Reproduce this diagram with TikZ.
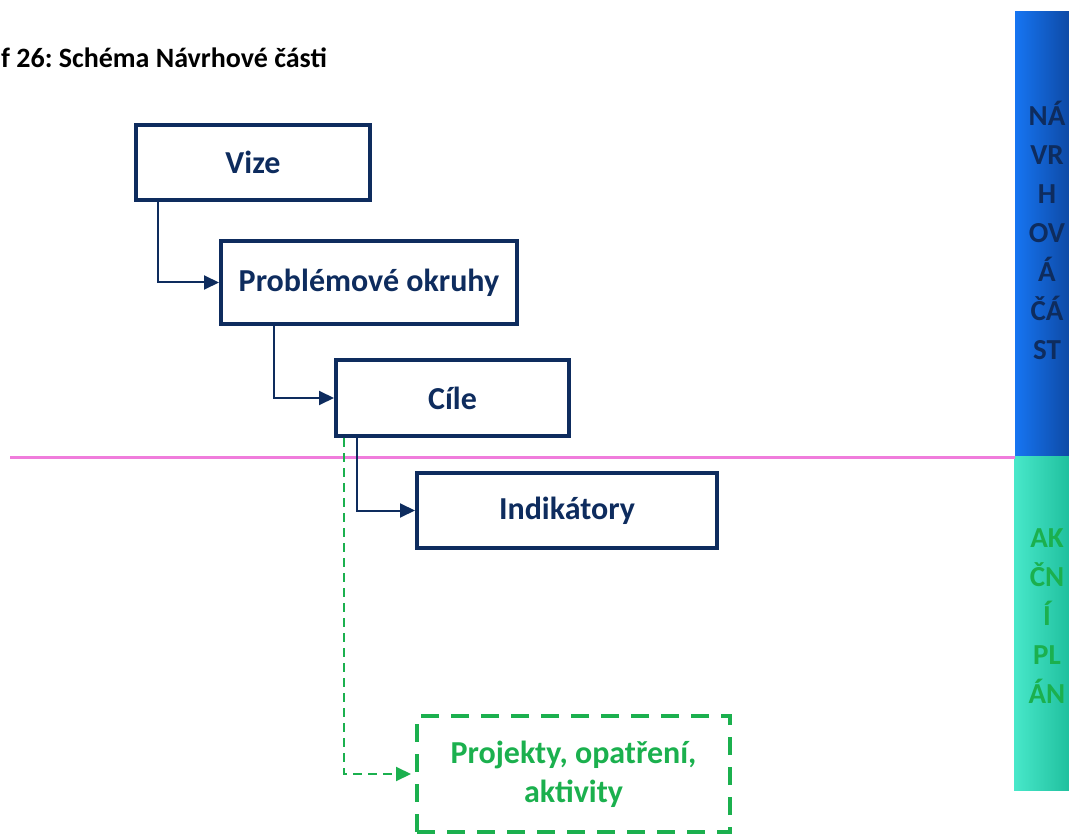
\documentclass[tikz,border=0pt]{standalone}
\usepackage{fontspec}
\setmainfont{Carlito}
\usepackage{tikz}
\usetikzlibrary{arrows.meta,calc}

\definecolor{navy}{HTML}{0E2C5E}
\definecolor{grn}{HTML}{1BB04E}
\definecolor{pinkline}{HTML}{F07CDC}
\definecolor{barblueL}{HTML}{1675F2}
\definecolor{barblueR}{HTML}{0E4AA6}
\definecolor{bartealL}{HTML}{48E8CA}
\definecolor{bartealR}{HTML}{20C09E}

\frenchspacing
\tikzset{
  levelbox/.style={draw=navy, line width=4pt, text=navy, font=\bfseries\fontsize{32}{38}\selectfont,
    inner sep=0pt, align=center},
  planbox/.style={draw=grn, line width=4pt, dash pattern=on 18pt off 12pt, text=grn,
    font=\bfseries\fontsize{32}{39}\selectfont, inner sep=0pt, align=center},
  link/.style={draw=navy, line width=2pt, -{Triangle[length=15pt,width=14pt]}},
  planlink/.style={draw=grn, line width=2pt, dash pattern=on 9pt off 6pt, -{Triangle[length=15pt,width=14pt]}},
  sidetext/.style={font=\bfseries\fontsize{29}{39}\selectfont, align=center}
}

\begin{document}
\begin{tikzpicture}[x=1pt, y=-1pt]
  \useasboundingbox (0,0) rectangle (1069,834);

  % side bars
  \shade[left color=barblueL, right color=barblueR] (1015,12) rectangle (1069,456);
  \shade[left color=bartealL, right color=bartealR] (1014,456) rectangle (1069,790);
  \node[sidetext, text=navy] (navrh) at (1047,230) {NÁ\\VR\\H\\OV\\Á\\ČÁ\\ST};
  \node[sidetext, text=grn] (akcni) at (1047,616) {AK\\ČN\\Í\\PL\\ÁN};

  % title
  \node[anchor=west, inner sep=0pt, font=\bfseries\fontsize{28}{32}\selectfont] (title) at (1,58) {f 26: Schéma Návrhové části};

  % divider
  \draw[pinkline, line width=3pt] (10,457) -- (1015,457);

  % boxes
  \node[levelbox, minimum width=234pt, minimum height=75pt] (vize) at (253,162.5) {Vize};
  \node[levelbox, minimum width=296pt, minimum height=83pt] (okruhy) at (369,282.5) {Problémové okruhy};
  \node[levelbox, minimum width=233pt, minimum height=76pt] (cile) at (452.5,398) {Cíle};
  \node[levelbox, minimum width=300pt, minimum height=75pt] (indik) at (567,510.5) {Indikátory};
  \node[planbox, minimum width=313pt, minimum height=116pt] (projekty) at (573.5,774) {Projekty, opatření,\\aktivity};

  % connectors
  \draw[link] ($(vize.south west)+(24,0)$) |- (okruhy.west);
  \draw[link] ($(okruhy.south west)+(55,0)$) |- (cile.west);
  \draw[link] ($(cile.south west)+(23,0)$) |- (indik.west);
  \draw[planlink] ($(cile.south west)+(10,0)$) |- ($(projekty.west)+(-4,0)$);
\end{tikzpicture}
\end{document}
